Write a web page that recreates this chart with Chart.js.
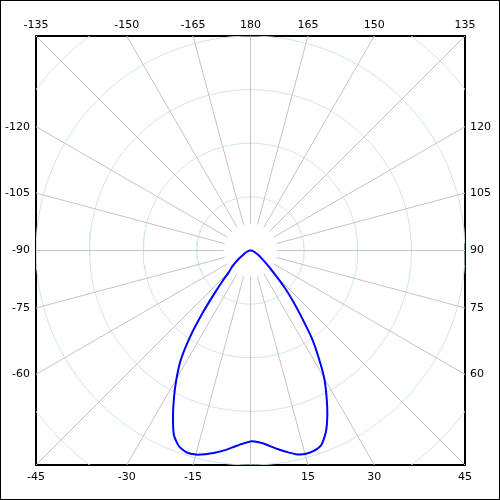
<!DOCTYPE html>
<html>
<head>
<meta charset="utf-8">
<script src="https://cdn.jsdelivr.net/npm/chart.js@4.4.1/dist/chart.umd.min.js"></script>
<style>
  html, body { margin: 0; padding: 0; background: #fff; }
  #box { width: 500px; height: 500px; box-sizing: border-box; border: 1px solid #000; }
  canvas { display: block; }
</style>
</head>
<body>
<div id="box"><canvas id="polarChart" width="498" height="498"></canvas></div>
<script>
// Angle in degrees: 0 points down, 90 right, 180 up
const angles = [-90, -85, -80, -75, -70, -65, -60, -55, -50, -47.5, -45, -42.5, -40, -37.5, -35, -32.5, -30, -27.5,
    -25, -22.5, -20, -17.5, -15, -12.5, -10, -7.5, -5, -2.5, 0, 2.5, 5, 7.5, 10, 12.5, 15, 17.5, 20, 22.5, 25,
    27.5, 30, 32.5, 35, 37.5, 40, 42.5, 45, 47.5, 50, 55, 60, 65, 70, 75, 80, 85, 90];
const intensity = [0, 2, 3, 5, 7, 11, 15, 26, 41, 49, 57, 77, 105, 146, 196, 242, 276, 309,
    342, 373, 389, 395, 394, 389, 383, 376, 368, 361, 356, 358, 364, 373, 381, 389, 393, 392, 386, 367, 339,
    307, 275, 236, 199, 156, 123, 95, 69, 52, 39, 25, 17, 11, 7, 5, 3, 2, 0];

// Grid
const rings = [100, 200, 300, 400, 500];
const spokes = [-165, -150, -135, -120, -105, -90, -75, -60, -45, -30, -15, 0,
    15, 30, 45, 60, 75, 90, 105, 120, 135, 150, 165, 180];

// Angle labels along the frame
const topTicks = [-135, -150, -165, 180, 165, 150, 135];
const bottomTicks = [-45, -30, -15, 15, 30, 45];
const leftTicks = [-120, -105, -90, -75, -60];
const rightTicks = [120, 105, 90, 75, 60];

const edge = 400;
const rad = d => d * Math.PI / 180;
const polar = (r, a) => ({ x: r * Math.sin(rad(a)), y: -r * Math.cos(rad(a)) });

const datasets = [];

// the measured curve (first = drawn on top)
datasets.push({
    data: angles.map((a, i) => polar(intensity[i], a)),
    showLine: true,
    borderColor: '#0000ff',
    borderWidth: 2,
    pointRadius: 0,
    tension: 0.2,
    clip: 0
});

spokes.forEach(a => {
    datasets.push({
        data: [polar(50, a), polar(700, a)],
        showLine: true,
        borderColor: '#c4c4c4',
        borderWidth: 1,
        pointRadius: 0,
        clip: 0
    });
});

rings.forEach(r => {
    const pts = [];
    for (let a = 0; a <= 360; a += 2) pts.push(polar(r, a));
    datasets.push({
        data: pts,
        showLine: true,
        borderColor: '#cbe5ec',
        borderWidth: 1,
        pointRadius: 0,
        clip: 0
    });
});

const tickFont = { family: 'DejaVu Sans', size: 11 };

function edgeAxis(position, list, toValue, padding, size) {
    const horizontal = position === 'top' || position === 'bottom';
    return {
        type: 'linear',
        axis: horizontal ? 'x' : 'y',
        position: position,
        min: -edge,
        max: edge,
        grid: { display: false, drawTicks: false },
        border: { display: true, color: '#000', width: 2 },
        ticks: {
            autoSkip: false,
            maxRotation: 0,
            padding: padding,
            color: '#000',
            font: tickFont,
            callback: (v, i) => String(list[i])
        },
        afterBuildTicks: s => { s.ticks = list.map(a => ({ value: toValue(a) })); },
        afterFit: s => { if (horizontal) s.height = size; else s.width = size; }
    };
}

new Chart(document.getElementById('polarChart'), {
    type: 'scatter',
    data: { datasets: datasets },
    options: {
        responsive: false,
        animation: false,
        layout: { padding: 0 },
        plugins: { legend: { display: false }, tooltip: { enabled: false } },
        scales: {
            x: edgeAxis('bottom', bottomTicks, a => edge * Math.tan(rad(a)), 6, 34),
            x2: edgeAxis('top', topTicks, a => -edge * Math.tan(rad(a)), 4, 35),
            y: edgeAxis('left', leftTicks, a => edge / Math.tan(rad(a)), 6, 35),
            y2: edgeAxis('right', rightTicks, a => -edge / Math.tan(rad(a)), 5, 34)
        }
    }
});
</script>
</body>
</html>
